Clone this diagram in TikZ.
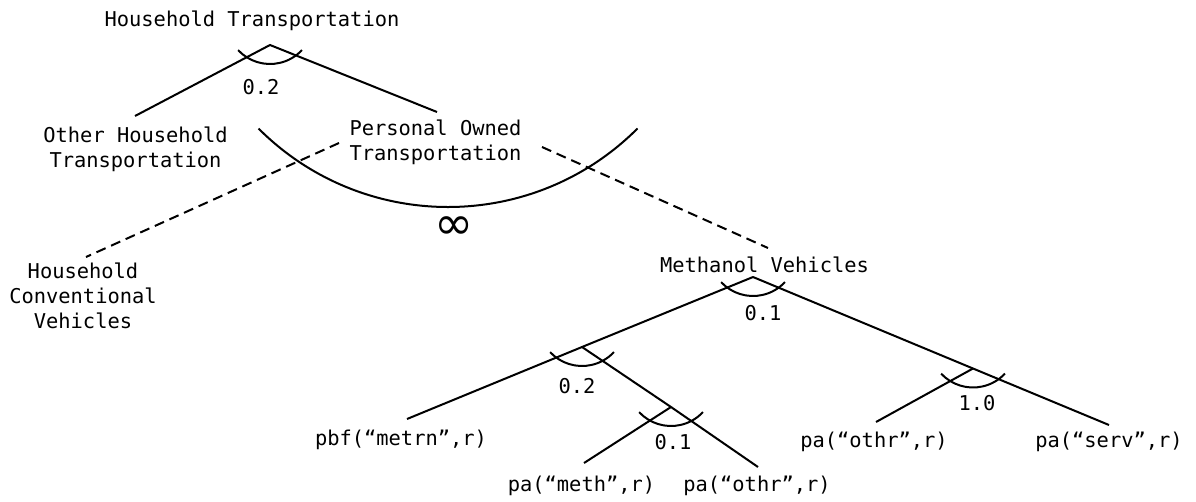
\documentclass[tikz,border=0pt]{standalone}
\usepackage{fontspec}
\setmonofont{DejaVu Sans Mono}
\newfontfamily\symfont{DejaVu Sans}
\usetikzlibrary{calc}
\newcommand\nestarc[1]{\draw[nest] ($(#1)+(0,-24.6)$) ++(223:43.6pt) arc[start angle=223,end angle=317,radius=43.6pt];}
\begin{document}
\begin{tikzpicture}[x=1pt,y=-1pt,
  every node/.style={inner sep=0pt,font=\ttfamily\fontsize{20.4}{25}\selectfont},
  lbl/.style={anchor=base,align=center},
  link/.style={line width=2pt},
  dlink/.style={line width=2pt,dash pattern=on 10pt off 6pt},
  nest/.style={line width=2pt}]
\useasboundingbox (0,0) rectangle (1196,501);
% text nodes (base = baseline of the last line)
\node[lbl] (ht)  at (252,26)  {Household Transportation};
\node[lbl] (oht) at (135.5,167) {Other Household\\Transportation};
\node[lbl] (pot) at (435.5,160.5) {Personal Owned\\Transportation};
\node[lbl] (hcv) at (83,328) {Household\\Conventional\\Vehicles};
\node[lbl] (mv)  at (764.5,272) {Methanol Vehicles};
\node[lbl] (pbf) at (401,445) {pbf(“metrn”,r)};
\node[lbl] (pam) at (581.5,491) {pa(“meth”,r)};
\node[lbl] (pao) at (757,491) {pa(“othr”,r)};
\node[lbl] (par) at (874,447) {pa(“othr”,r)};
\node[lbl] (pas) at (1109,447) {pa(“serv”,r)};
% elasticity labels
\node[lbl] (e1) at (261,94) {0.2};
\node[lbl] (e3) at (763,320) {0.1};
\node[lbl] (e4) at (577,393) {0.2};
\node[lbl] (e5) at (673,449) {0.1};
\node[lbl] (e6) at (977,410) {1.0};
\node[anchor=center,font=\symfont\fontsize{47}{47}\selectfont] (infty) at (454,228) {∞};
% tree points
\coordinate (A1) at (270,45);
\coordinate (L1) at (135,116);
\coordinate (R1) at (437,112);
\coordinate (D1s) at (339,143);
\coordinate (D1e) at (86,257);
\coordinate (D2s) at (542,147);
\coordinate (D2e) at (768,248);
\coordinate (A3) at (753,277);
\coordinate (A4) at (582,347);
\coordinate (P1) at (407,419);
\coordinate (A5) at (671,407);
\coordinate (O1) at (758,467);
\coordinate (M1) at (584,463);
\coordinate (A6) at (973,368.5);
\coordinate (S1) at (1109,425);
\coordinate (R2) at (876,422);
% connectors
\draw[link] (L1) -- (A1) -- (R1);
\draw[dlink] (D1s) -- (D1e);
\draw[dlink] (D2s) -- (D2e);
\draw[link] (A3) -- (A4) -- (P1);
\draw[link] (A4) -- (A5) -- (O1);
\draw[link] (A5) -- (M1);
\draw[link] (A3) -- (A6) -- (S1);
\draw[link] (A6) -- (R2);
% nest arcs
\nestarc{A1}
\nestarc{A3}
\nestarc{A4}
\nestarc{A5}
\nestarc{A6}
\draw[nest] (448,-61) ++(225:268pt) arc[start angle=225,end angle=315,radius=268pt];
\end{tikzpicture}
\end{document}
